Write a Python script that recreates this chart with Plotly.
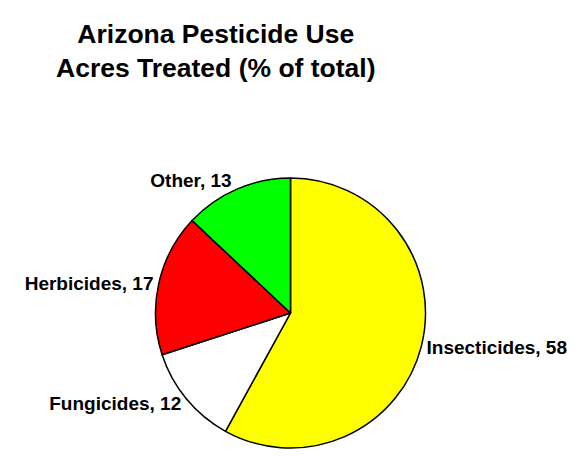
import plotly.graph_objects as go

categories = ["Insecticides", "Fungicides", "Herbicides", "Other"]
values = [58, 12, 17, 13]
colors = ["#FFFF00", "#FFFFFF", "#FF0000", "#00FF00"]

FONT = "Liberation Sans, Arial"

fig = go.Figure(go.Pie(
    labels=categories,
    values=values,
    sort=False,
    direction="clockwise",
    rotation=0,
    marker={"colors": colors, "line": {"color": "black", "width": 1.5}},
    textposition="outside",
    texttemplate="<b>%{label}, %{value}</b>",
    textfont={"family": FONT, "size": 19, "color": "black"},
    hoverinfo="label+value",
))

fig.update_layout(
    width=583,
    height=456,
    showlegend=False,
    paper_bgcolor="white",
    plot_bgcolor="white",
    margin={"l": 147, "r": 165, "t": 170, "b": 16},
)

fig.add_annotation(
    text="<b>Arizona Pesticide Use<br>Acres Treated (% of total)</b>",
    font={"family": FONT, "size": 26.5, "color": "black"},
    xref="paper", yref="paper",
    x=0.225, y=1.598,
    xanchor="center", yanchor="top",
    showarrow=False,
)

fig.write_html("out.html")
